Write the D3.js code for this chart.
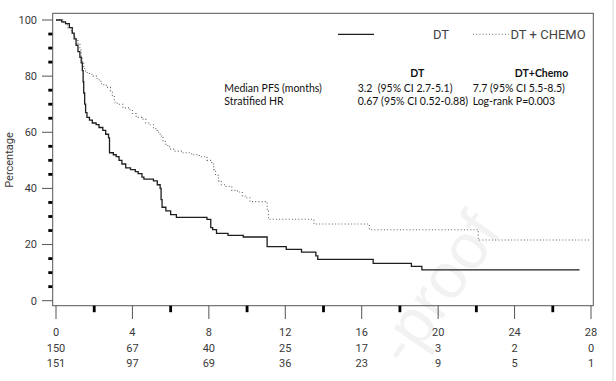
<!DOCTYPE html>
<html><head><meta charset="utf-8">
<script src="https://cdn.jsdelivr.net/npm/d3@7"></script>
<style>html,body{margin:0;padding:0;background:#fff;}svg{display:block;}</style>
</head><body>
<svg id="chart" width="616" height="381"></svg>
<script>
// ---- data ----
const dtTime = [0,0.3,0.5,0.7,0.85,0.95,1.05,1.15,1.25,1.32,1.38,1.42,1.45,1.5,1.55,1.62,1.75,1.9,2.1,2.25,2.45,2.6,2.75,2.8,3.0,3.15,3.3,3.45,3.65,3.9,4.15,4.3,4.5,4.6,5.1,5.3,5.45,5.5,5.55,5.75,6.0,6.3,7.9,8.1,8.2,8.4,9.0,9.8,11.05,12.05,12.85,13.6,13.7,16.6,18.6,19.15,27.4];
const dtSurv = [100,99.3,98.7,97.3,95.3,93.3,91,88.7,86.7,84.7,82,78,74,70,67,65.3,64.3,63.3,62.7,61.7,60.7,59.3,58,52.7,52,51.3,50,48.7,47.3,46.7,46,45.3,44,43.3,42.7,41.3,40,36,33.3,32,30.7,29.7,29,26,25.3,24,23.3,22.7,19.3,18.3,17.3,16,14.7,13.3,12.2,11,11];
const chTime = [0,0.4,0.6,0.8,0.95,1.05,1.15,1.25,1.32,1.38,1.45,1.55,1.75,1.95,2.15,2.35,2.5,2.7,2.85,2.95,3.05,3.2,3.5,3.8,4.0,4.2,4.5,4.7,4.9,5.1,5.3,5.45,5.6,5.75,5.95,6.2,6.6,7.1,7.5,7.9,8.15,8.25,8.35,8.5,8.65,8.9,9.2,9.5,9.75,9.95,10.15,11.05,11.12,13.5,16.4,22.1,27.9];
const chSurv = [100,98.7,97.3,95.3,94,92.7,91.3,89.3,87,84.7,82.7,81.3,80.7,80,78.7,77.3,76.7,76,74.7,72.7,70.7,70,68.7,68,66.7,65.3,64.7,63.3,62.7,61.3,60,58.7,56.7,55.3,54,53.3,52.7,52,51.3,50,48.7,46.7,44.7,42.7,41.3,40.7,39.3,38.7,37.3,36.7,35.3,32,29,27.3,25.3,21.6,21.6];
const xTicks = [0,4,8,12,16,20,24,28];
const xMinor = [2,6,10,14,18,22,26];
const yTicks = [0,20,40,60,80,100];
const yMinor = [5,10,15,25,30,35,45,50,55,65,70,75,85,90,95];
const riskDT = [150,67,40,25,17,3,2,0];
const riskChemo = [151,97,69,36,23,9,5,1];
const seriesNames = ["DT","DT + CHEMO"];
const tableHeader = ["DT","DT+Chemo"];
const tableRows = [
  ["Median PFS (months)","3.2  (95% CI 2.7-5.1)","7.7 (95% CI 5.5-8.5)"],
  ["Stratified HR","0.67 (95% CI 0.52-0.88)","Log-rank P=0.003"]
];

// ---- layout ----
const svg = d3.select("#chart");
const x = d3.scaleLinear().domain([0,28]).range([56,591]);
const y = d3.scaleLinear().domain([0,100]).range([300.7,20]);
const frame = {l:52.7, r:593.3, t:13.3, b:305.7};
const axisFont = "Roboto, 'Liberation Sans', sans-serif";
const axisColor = "#3a3a3a";

// watermark (faint)
svg.append("text")
  .attr("transform","translate(503,232) rotate(-55)")
  .attr("text-anchor","end")
  .attr("font-family","'Liberation Sans', Arial, sans-serif")
  .attr("font-size",64)
  .attr("fill","#f2f2f2")
  .text("-proof");

// image right border
svg.append("line").attr("x1",613).attr("x2",613).attr("y1",0).attr("y2",381)
  .attr("stroke","#d8d8d8").attr("stroke-width",1);

// frame
svg.append("rect")
  .attr("x",frame.l).attr("y",frame.t)
  .attr("width",frame.r-frame.l).attr("height",frame.b-frame.t)
  .attr("fill","none").attr("stroke","#555").attr("stroke-width",1);

// y axis major ticks & labels
const yg = svg.append("g");
yg.selectAll("line.maj").data(yTicks).join("line").attr("class","maj")
  .attr("x1",42).attr("x2",frame.l).attr("y1",d=>y(d)).attr("y2",d=>y(d))
  .attr("stroke","#555").attr("stroke-width",1);
yg.selectAll("rect.min").data(yMinor).join("rect").attr("class","min")
  .attr("x",48.3).attr("y",d=>y(d)-1.4).attr("width",4).attr("height",2.8)
  .attr("fill","#000");
yg.selectAll("text").data(yTicks).join("text")
  .attr("x",37).attr("y",d=>y(d)+3.8).attr("text-anchor","end")
  .attr("font-family",axisFont).attr("font-size",11).attr("fill",axisColor)
  .text(d=>d);
svg.append("text")
  .attr("transform","translate(13,160) rotate(-90)")
  .attr("text-anchor","middle")
  .attr("font-family",axisFont).attr("font-size",11).attr("fill",axisColor)
  .text("Percentage");

// x axis ticks
const xg = svg.append("g");
xg.selectAll("line.maj").data(xTicks).join("line").attr("class","maj")
  .attr("x1",d=>x(d)).attr("x2",d=>x(d)).attr("y1",frame.b).attr("y2",319)
  .attr("stroke","#555").attr("stroke-width",1);
xg.selectAll("rect.min").data(xMinor).join("rect").attr("class","min")
  .attr("x",d=>x(d)-1.4).attr("y",frame.b).attr("width",2.8).attr("height",6.5)
  .attr("fill","#000");
const rows = [xTicks, riskDT, riskChemo];
const rowY = [336, 351.5, 366.5];
rows.forEach((vals,i)=>{
  xg.selectAll("text.r"+i).data(vals).join("text").attr("class","r"+i)
    .attr("x",(d,j)=>x(xTicks[j])).attr("y",rowY[i]).attr("text-anchor","middle")
    .attr("font-family",axisFont).attr("font-size",11).attr("fill",axisColor)
    .text(d=>d);
});

// curves
const line = d3.line().x(d=>x(d[0])).y(d=>y(d[1])).curve(d3.curveStepAfter);
const dtData = dtTime.map((t,i)=>[t,dtSurv[i]]);
const chData = chTime.map((t,i)=>[t,chSurv[i]]);
svg.append("path").datum(chData).attr("d",line)
  .attr("fill","none").attr("stroke","#666").attr("stroke-width",1.1)
  .attr("stroke-dasharray","1,2.2");
svg.append("path").datum(dtData).attr("d",line)
  .attr("fill","none").attr("stroke","#1e1e1e").attr("stroke-width",1.3);

// legend
const lg = svg.append("g");
lg.append("line").attr("x1",338).attr("x2",374).attr("y1",34.3).attr("y2",34.3)
  .attr("stroke","#1e1e1e").attr("stroke-width",1.3);
lg.append("text").attr("x",433).attr("y",38.8)
  .attr("font-family",axisFont).attr("font-size",13).attr("fill","#444").text(seriesNames[0]);
lg.append("line").attr("x1",473).attr("x2",509).attr("y1",34.3).attr("y2",34.3)
  .attr("stroke","#666").attr("stroke-width",1.1).attr("stroke-dasharray","1,2.2");
lg.append("text").attr("x",510.5).attr("y",38.8)
  .attr("font-family",axisFont).attr("font-size",13).attr("fill","#444").text(seriesNames[1]);

// stats table
const tFont = "Lato, 'Open Sans', sans-serif";
const tg = svg.append("g").attr("font-family",tFont).attr("font-size",10.5).attr("fill","#111");
tg.append("text").attr("x",417.3).attr("y",77).attr("text-anchor","middle")
  .attr("font-weight","bold").text(tableHeader[0]);
tg.append("text").attr("x",541.5).attr("y",77).attr("text-anchor","middle")
  .attr("font-weight","bold").text(tableHeader[1]);
const colX = [224.3, 357.7, 472.7];
const tRowY = [91.5, 105];
tableRows.forEach((r,i)=>{
  r.forEach((c,j)=>{
    tg.append("text").attr("x",colX[j]).attr("y",tRowY[i])
      .attr("xml:space","preserve").style("white-space","pre").text(c);
  });
});
</script>
</body></html>
